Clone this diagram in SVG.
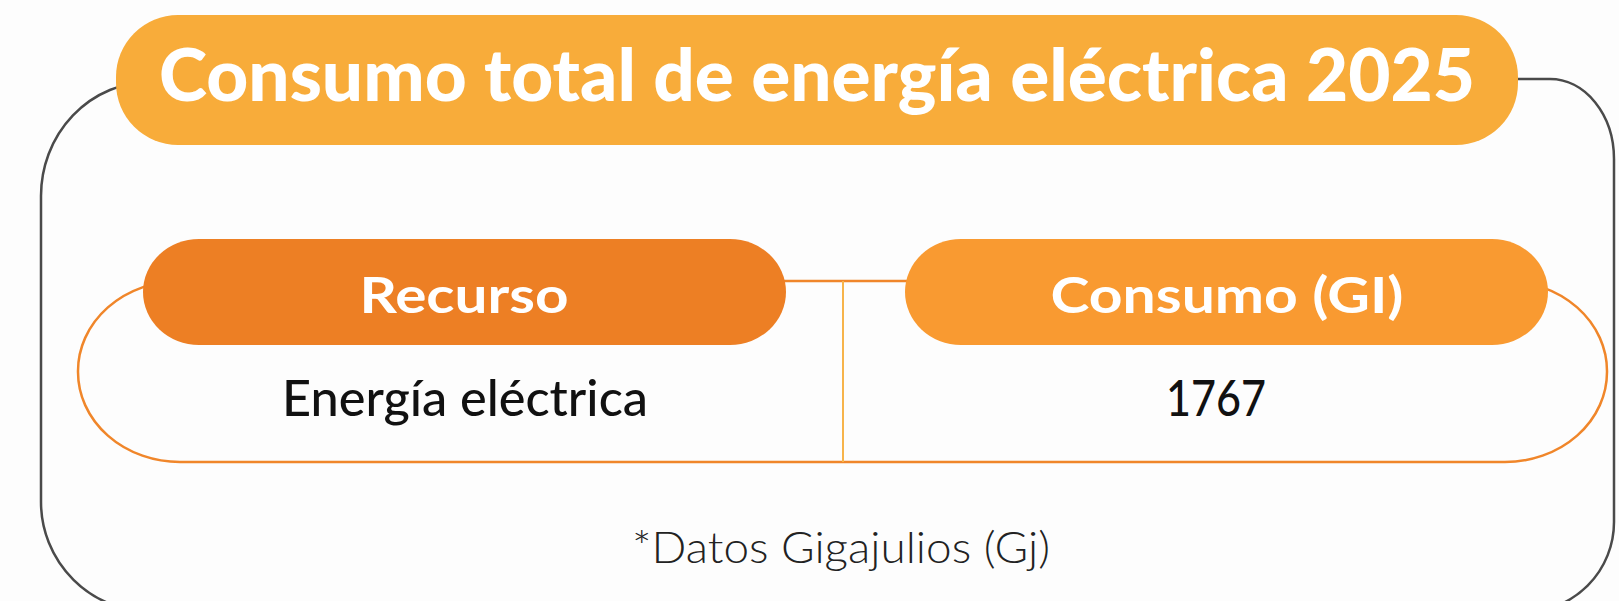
<svg xmlns="http://www.w3.org/2000/svg" width="1619" height="601" viewBox="0 0 1619 601">
<style>
.frame{fill:none;stroke:#4a4a4a;stroke-width:2.5}
.tbl{fill:none;stroke:#f0862a;stroke-width:2.5}
.div{fill:none;stroke:#f7b44a;stroke-width:2}
.hd{font-family:Lato,"Liberation Sans",sans-serif;font-weight:900;fill:#ffffff;text-anchor:middle}
.sub{font-family:Lato,"Liberation Sans",sans-serif;font-weight:700;fill:#ffffff;text-anchor:middle}
.cell{font-family:Lato,"Liberation Sans",sans-serif;font-weight:500;fill:#111111;text-anchor:middle}
.note{font-family:Lato,"Liberation Sans",sans-serif;font-weight:300;fill:#222222;text-anchor:middle}
</style>
<rect width="1619" height="601" fill="#fdfdfd"/>
<g id="connectors">
  <path class="frame" d="M150 82 A109 114 0 0 0 41 196 V502 A111 110 0 0 0 152 612 H1524 A90 90 0 0 0 1614 522 V159 A64 80 0 0 0 1550 79 H1500"/>
  <rect class="tbl" x="78" y="281" width="1529" height="181" rx="102" ry="90"/>
  <line class="div" x1="843" y1="281" x2="843" y2="462"/>
</g>
<g id="title">
  <rect x="116" y="15" width="1402" height="130" rx="62" ry="62" fill="#f8ac3a"/>
  <text class="hd" x="817" y="101" font-size="72" textLength="1316" lengthAdjust="spacingAndGlyphs">Consumo total de energía eléctrica 2025</text>
</g>
<g id="recurso">
  <rect x="143" y="239" width="643" height="106" rx="56" ry="53" fill="#ed7f24"/>
  <text class="sub" x="464" y="313" font-size="50" textLength="209" lengthAdjust="spacingAndGlyphs">Recurso</text>
</g>
<g id="consumo">
  <rect x="905" y="239" width="643" height="106" rx="56" ry="53" fill="#f99a31"/>
  <text class="sub" x="1227" y="313" font-size="50" textLength="353" lengthAdjust="spacingAndGlyphs">Consumo (GI)</text>
</g>
<g id="cell-recurso">
  <text class="cell" x="465" y="416" font-size="50" textLength="366" lengthAdjust="spacingAndGlyphs">Energía eléctrica</text>
</g>
<g id="cell-consumo">
  <text class="cell" x="1216" y="416" font-size="50" textLength="100" lengthAdjust="spacingAndGlyphs">1767</text>
</g>
<g id="note">
  <text class="note" x="841" y="563" font-size="44" textLength="418" lengthAdjust="spacingAndGlyphs">*Datos Gigajulios (Gj)</text>
</g>
</svg>
